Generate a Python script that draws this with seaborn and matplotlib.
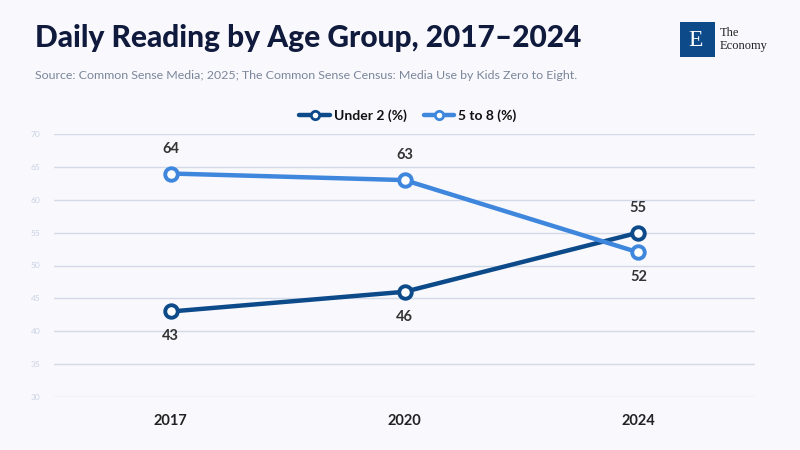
import pandas as pd
import numpy as np
import matplotlib.pyplot as plt
import seaborn as sns
from matplotlib.patches import Rectangle
from matplotlib.lines import Line2D

years = ['2017', '2020', '2024']
under_2 = [43, 46, 55]
five_to_8 = [64, 63, 52]
series_names = ['Under 2 (%)', '5 to 8 (%)']
colors = ['#0d4a8a', '#3f86dd']
yticks = [30, 35, 40, 45, 50, 55, 60, 65, 70]

bg = '#f8f8fd'
sns.set_theme(style='white')
plt.rcParams['font.family'] = ['Lato', 'DejaVu Sans']

df = pd.DataFrame({
    'year': years * 2,
    'value': under_2 + five_to_8,
    'series': [series_names[0]] * 3 + [series_names[1]] * 3,
})
df['x'] = df['year'].map({y: i for i, y in enumerate(years)})

fig = plt.figure(figsize=(8, 4.5), dpi=100, facecolor=bg)
ax = fig.add_axes([0.0675, 0.118, 0.8765, 0.584])
ax.set_facecolor(bg)

sns.lineplot(data=df, x='x', y='value', hue='series', palette=colors,
             linewidth=3.2, marker='o', markersize=9, markerfacecolor='white',
             markeredgewidth=2.8, ax=ax, legend=False, zorder=3)
for line, c in zip(ax.get_lines(), colors):
    line.set_markeredgecolor(c)

# data labels: above or below the point
offsets = {series_names[0]: [-1, -1, 1], series_names[1]: [1, 1, -1]}
for name, vals in zip(series_names, [under_2, five_to_8]):
    for i, v in enumerate(vals):
        d = offsets[name][i]
        ax.annotate(str(v), (i, v), xytext=(0, 18 * d), textcoords='offset points',
                    ha='center', va='center', fontsize=10.5, fontweight='bold',
                    color='#333333', zorder=4)

ax.set_xlim(-0.5, 2.5)
ax.set_ylim(30, 70)
ax.set_yticks(yticks)
ax.set_yticklabels([str(t) for t in yticks], fontsize=6, color='#c9d3e3')
ax.set_xticks(range(len(years)))
ax.set_xticklabels(years, fontsize=10.5, fontweight='bold', color='#222222')
ax.tick_params(axis='x', length=0, pad=12)
ax.tick_params(axis='y', length=0, pad=10)
ax.grid(axis='y', color='#d3dae7', linewidth=1)
ax.set_axisbelow(True)
for s in ax.spines.values():
    s.set_visible(False)
ax.set_xlabel('')
ax.set_ylabel('')

# legend
handles = [Line2D([0], [0], color=c, linewidth=3.2, marker='o', markersize=6,
                  markerfacecolor='white', markeredgecolor=c, markeredgewidth=2)
           for c in colors]
leg = fig.legend(handles, series_names, loc='center', bbox_to_anchor=(0.51, 0.742),
                 ncol=2, frameon=False, fontsize=10, handlelength=2.2,
                 columnspacing=1.2, handletextpad=0.3)
for t in leg.get_texts():
    t.set_fontweight('bold')
    t.set_color('#111111')

# title and source
fig.text(0.044, 0.915, 'Daily Reading by Age Group, 2017\u20132024', fontsize=21.5,
         fontweight='black', color='#0f1a3c', va='center', ha='left')
fig.text(0.044, 0.832, 'Source: Common Sense Media; 2025; The Common Sense Census: Media Use by Kids Zero to Eight.',
         fontsize=8.9, color='#7a8699', va='center', ha='left')

# logo
fig.patches.append(Rectangle((680 / 800, 1 - 57 / 450), 35 / 800, 35 / 450,
                             transform=fig.transFigure, facecolor='#0d4a8a',
                             edgecolor='none'))
fig.text(696 / 800, 1 - 40 / 450, 'E', fontsize=17, color='white', family='Liberation Serif',
         ha='center', va='center')
fig.text(720 / 800, 1 - 33 / 450, 'The', fontsize=9, color='#222222', family='Liberation Serif',
         ha='left', va='center')
fig.text(720 / 800, 1 - 46 / 450, 'Economy', fontsize=9, color='#222222', family='Liberation Serif',
         ha='left', va='center')

fig.savefig('out.png', dpi=100, facecolor=bg)
